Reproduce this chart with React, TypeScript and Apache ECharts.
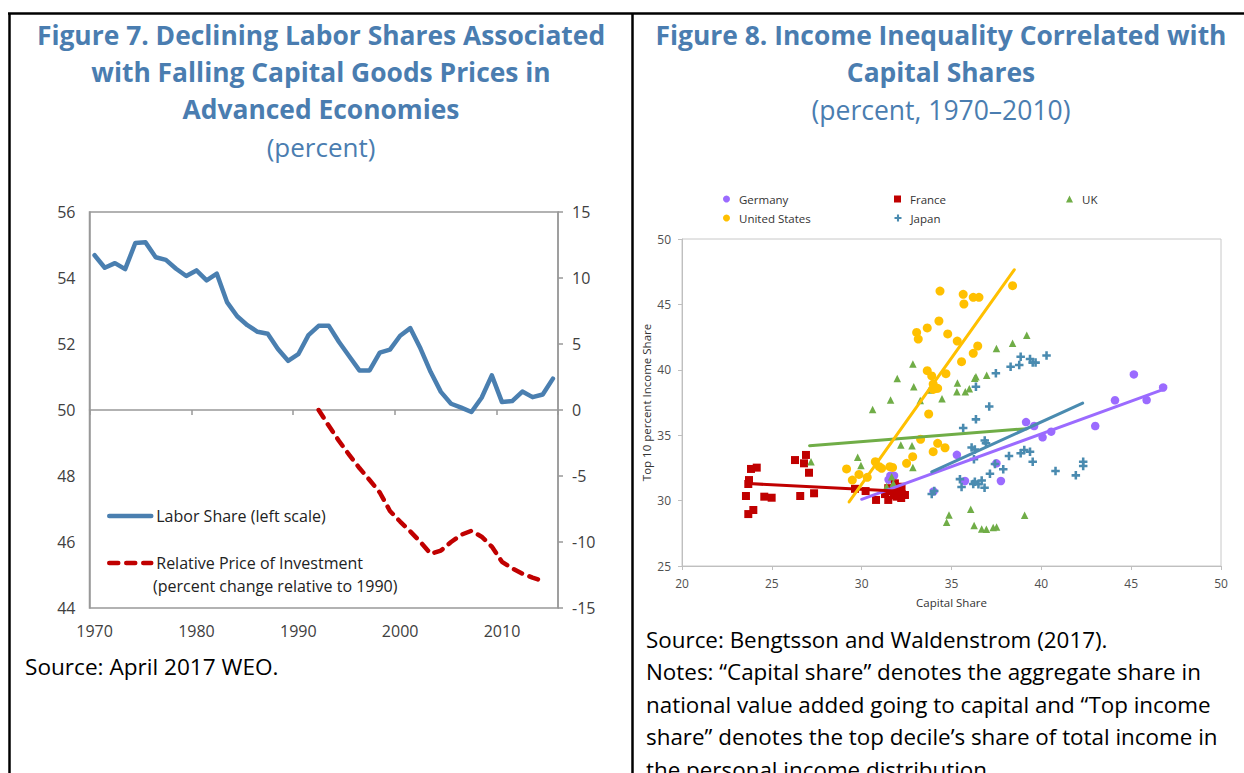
import React, { useEffect, useRef } from "react";
import * as echarts from "echarts";

// ---------- Figure 7 data ----------
const years: string[] = [
  "1970","1971","1972","1973","1974","1975","1976","1977","1978","1979",
  "1980","1981","1982","1983","1984","1985","1986","1987","1988","1989",
  "1990","1991","1992","1993","1994","1995","1996","1997","1998","1999",
  "2000","2001","2002","2003","2004","2005","2006","2007","2008","2009",
  "2010","2011","2012","2013","2014","2015",
];
const laborShare: number[] = [
  54.69, 54.31, 54.45, 54.27, 55.06, 55.08, 54.63, 54.55, 54.28, 54.06,
  54.23, 53.93, 54.13, 53.27, 52.84, 52.57, 52.37, 52.31, 51.85, 51.49,
  51.69, 52.27, 52.55, 52.55, 52.06, 51.63, 51.2, 51.2, 51.74, 51.83,
  52.25, 52.48, 51.86, 51.15, 50.55, 50.19, 50.07, 49.94, 50.37, 51.05,
  50.24, 50.27, 50.56, 50.39, 50.47, 50.95,
];
const relPriceStart = "1992";
const relPrice: number[] = [
  0, -1.2, -2.35, -3.4, -4.4, -5.3, -6.25, -7.65, -8.45, -9.2, -10.0, -10.9,
  -10.65, -10.0, -9.45, -9.15, -9.6, -10.35, -11.5, -12.0, -12.4, -12.7, -12.95,
];
const leftTicks = { min: 44, max: 56, interval: 2 };
const rightTicks = { min: -15, max: 15, interval: 5 };

// ---------- Figure 8 data ----------
const germany: number[][] = [
  [31.6, 31.9], [31.8, 31.9], [31.5, 31.6], [34.0, 30.7], [35.3, 33.5], [35.75, 31.5],
  [37.5, 32.85], [37.75, 31.5], [39.15, 36.0], [39.6, 35.7], [40.07, 34.84], [40.55, 35.27],
  [43.0, 35.7], [44.1, 37.67], [45.15, 39.65], [45.86, 37.69], [46.78, 38.65],
];
const france: number[][] = [
  [23.84, 32.42], [24.16, 32.52], [23.73, 31.57], [23.69, 31.27], [23.56, 30.35], [23.97, 29.28],
  [23.69, 28.97], [24.58, 30.3], [24.99, 30.22], [26.29, 33.1], [26.9, 33.49], [26.79, 32.85],
  [27.07, 32.13], [26.58, 30.35], [27.35, 30.56], [29.63, 30.9], [30.22, 30.73], [30.8, 30.05],
  [31.3, 30.5], [31.48, 30.95], [31.85, 31.32], [32.22, 31.06], [32.41, 30.43], [31.95, 30.3],
  [31.48, 30.05], [32.2, 30.2], [31.6, 30.7], [32.0, 30.8], [31.8, 30.4],
];
const uk: number[][] = [
  [27.18, 32.97], [29.78, 33.32], [29.96, 32.68], [30.61, 36.97], [31.61, 37.7], [31.98, 39.33],
  [32.85, 40.44], [32.9, 38.71], [32.18, 34.25], [32.8, 34.19], [32.85, 32.53], [31.67, 31.83],
  [31.76, 31.32], [31.39, 31.07], [33.26, 37.65], [33.76, 38.45], [34.47, 37.78], [35.33, 39.0],
  [35.3, 38.33], [35.77, 38.33], [35.99, 38.56], [36.29, 39.35], [36.36, 39.47], [36.96, 39.58],
  [37.5, 41.63], [38.4, 42.03], [39.19, 42.64], [34.73, 28.34], [34.86, 28.9], [36.07, 29.33],
  [36.26, 28.09], [36.68, 27.83], [36.94, 27.81], [37.32, 27.95], [37.51, 27.98], [39.07, 28.88],
];
const unitedStates: number[][] = [
  [29.16, 32.42], [29.48, 31.57], [29.85, 32.0], [30.31, 31.78], [30.76, 32.97], [30.98, 32.59],
  [31.11, 32.47], [31.57, 32.59], [31.72, 32.54], [32.5, 32.85], [32.84, 33.36], [33.28, 34.69],
  [33.98, 33.74], [34.23, 34.38], [34.64, 34.04], [33.73, 36.62], [33.65, 39.93], [33.9, 39.53],
  [34.69, 39.7], [33.98, 38.91], [34.13, 38.58], [34.23, 38.58], [33.98, 38.5], [33.06, 42.86],
  [33.15, 42.35], [33.65, 43.2], [34.3, 43.73], [34.36, 46.02], [34.79, 42.74], [35.32, 42.2],
  [35.56, 40.62], [36.21, 41.26], [36.46, 41.82], [35.65, 45.77], [35.69, 45.03], [36.21, 45.54],
  [36.53, 45.54], [38.4, 46.43],
];
const japan: number[][] = [
  [33.9, 30.5], [34.04, 30.73], [35.47, 31.64], [35.56, 31.04], [36.21, 31.27], [36.3, 31.45],
  [36.5, 31.25], [36.68, 31.53], [36.84, 30.98], [37.14, 32.05], [37.42, 32.8], [37.88, 32.39],
  [36.12, 34.06], [36.3, 33.9], [36.25, 33.17], [36.85, 34.6], [36.92, 34.38], [35.65, 35.55],
  [36.36, 36.21], [37.1, 37.2], [36.36, 38.71], [37.47, 39.73], [38.29, 40.24], [38.77, 40.37],
  [38.85, 41.0], [39.37, 40.83], [39.52, 40.55], [39.68, 40.55], [40.29, 41.1], [38.2, 33.41],
  [38.85, 33.62], [39.05, 33.87], [39.37, 33.74], [39.52, 32.97], [40.79, 32.26], [41.92, 31.93],
  [42.33, 32.97], [42.33, 32.64],
];
const germanyTrend: number[][] = [[30.0, 30.1], [46.8, 38.5]];
const franceTrend: number[][] = [[23.7, 31.3], [32.4, 30.7]];
const ukTrend: number[][] = [[27.1, 34.2], [39.2, 35.5]];
const usTrend: number[][] = [[29.3, 29.9], [38.5, 47.65]];
const japanTrend: number[][] = [[33.9, 32.2], [42.3, 37.45]];
const scatterX = { min: 20, max: 50, interval: 5 };
const scatterY = { min: 25, max: 50, interval: 5 };

// ---------- texts ----------
const leftTitle = ["Figure 7. Declining Labor Shares Associated", "with Falling Capital Goods Prices in", "Advanced Economies"];
const leftSub = "(percent)";
const rightTitle = ["Figure 8. Income Inequality Correlated with", "Capital Shares"];
const rightSub = "(percent, 1970–2010)";
const leftSource = "Source: April 2017 WEO.";
const rightNotes = [
  "Source: Bengtsson and Waldenstrom (2017).",
  "Notes: “Capital share” denotes the aggregate share in",
  "national value added going to capital and “Top income",
  "share” denotes the top decile’s share of total income in",
  "the personal income distribution.",
];
const laborName = "Labor Share (left scale)";
const priceName = "Relative Price of Investment";
const priceName2 = "(percent change relative to 1990)";

const FONT = '"Open Sans", "Noto Sans", sans-serif';
const TITLE_COLOR = "#4a7db0";
const BLUE = "#4a7fb0";
const RED = "#c00000";
const C_DE = "#9b6bff";
const C_FR = "#c00000";
const C_UK = "#70ad47";
const C_US = "#ffc000";
const C_JP = "#4a8bb0";
const PLUS = "path://M2.8,0H5.2V2.8H8V5.2H5.2V8H2.8V5.2H0V2.8H2.8Z";

export default function App() {
  const ref = useRef<HTMLDivElement>(null);
  useEffect(() => {
    if (!ref.current) return;
    const chart = echarts.init(ref.current, undefined, { renderer: "svg" });
    const startIdx = years.indexOf(relPriceStart);
    const priceData = years.map((_, i) =>
      i >= startIdx && i - startIdx < relPrice.length ? relPrice[i - startIdx] : null
    );
    const decade = (_i: number, v: string) => Number(v) % 10 === 0;
    const decadeIdx = (i: number) => Number(years[i]) % 10 === 0;

    const txt = (text: string, x: number, y: number, size: number, opts: any = {}) => ({
      type: "text",
      x,
      y,
      silent: true,
      style: {
        text,
        fontSize: size,
        fontFamily: FONT,
        fontWeight: opts.bold ? "bold" : "normal",
        fill: opts.color || "#000",
        align: opts.align || "left",
        verticalAlign: "middle",
      },
    });
    const ln = (x1: number, y1: number, x2: number, y2: number) => ({
      type: "line",
      silent: true,
      shape: { x1, y1, x2, y2 },
      style: { stroke: "#000", lineWidth: 2.5 },
    });

    const scatterLegend = (name: string, iconCenter: number, rowCenter: number) => ({
      data: [name],
      left: iconCenter - 3.5,
      top: rowCenter - 7,
      padding: 0,
      itemWidth: 7,
      itemHeight: 7,
      selectedMode: false,
      textStyle: { fontSize: 11.5, fontFamily: FONT, color: "#333", lineHeight: 14, padding: [0, 0, 0, 4] },
    });

    const graphics: any[] = [
      ln(8, 13.5, 1244, 13.5),
      ln(9.5, 13.5, 9.5, 773),
      ln(632.5, 13.5, 632.5, 773),
      ...leftTitle.map((t, i) => txt(t, 321, 35 + i * 37, 26.4, { bold: true, color: TITLE_COLOR, align: "center" })),
      txt(leftSub, 321, 147, 26, { color: TITLE_COLOR, align: "center" }),
      ...rightTitle.map((t, i) => txt(t, 941, 35 + i * 37, 26.4, { bold: true, color: TITLE_COLOR, align: "center" })),
      txt(rightSub, 941, 110, 26.5, { color: TITLE_COLOR, align: "center" }),
      txt(leftSource, 25, 666, 22.6),
      ...rightNotes.map((t, i) => txt(t, 646, 639 + i * 32.6, 22.4)),
      txt(priceName2, 153, 586, 16, { color: "#222" }),
    ];

    const axisLabelL = { fontSize: 16, fontFamily: FONT, color: "#404040" };
    const axisLabelS = { fontSize: 12, fontFamily: FONT, color: "#505050" };
    const grayLine = { lineStyle: { color: "#999", width: 1.5 } };
    const lightLine = { lineStyle: { color: "#bfbfbf", width: 1 } };

    const trend = (name: string, data: number[][], color: string) => ({
      name: name + " trend",
      type: "line",
      xAxisIndex: 1,
      yAxisIndex: 2,
      data,
      symbol: "none",
      z: 5,
      lineStyle: { color, width: 3, cap: "round" },
    });
    const scatter = (name: string, data: number[][], color: string, symbol: string, size: number) => ({
      name,
      type: "scatter",
      xAxisIndex: 1,
      yAxisIndex: 2,
      data,
      symbol,
      symbolSize: size,
      itemStyle: { color, opacity: 1 },
    });

    chart.setOption({
      animation: false,
      backgroundColor: "#fff",
      textStyle: { fontFamily: FONT },
      grid: [
        { left: 89.5, top: 212, width: 468.5, height: 396, show: true, borderColor: "#999", borderWidth: 1.5, backgroundColor: "transparent" },
        { left: 682, top: 239, width: 539, height: 327, show: true, borderColor: "#c8c8c8", borderWidth: 1, backgroundColor: "transparent" },
      ],
      legend: [
        {
          data: [{ name: laborName, lineStyle: { color: BLUE, width: 4.5, type: "solid" }, itemStyle: { opacity: 0 } }],
          left: 107, top: 506, padding: 0, itemWidth: 42, itemHeight: 20, selectedMode: false,
          textStyle: { fontSize: 16, fontFamily: FONT, color: "#222", lineHeight: 20 },
        },
        {
          data: [{ name: priceName, lineStyle: { color: RED, width: 4.5, type: [9, 8], cap: "round" }, itemStyle: { opacity: 0 } }],
          left: 107, top: 553, padding: 0, itemWidth: 42, itemHeight: 20, selectedMode: false,
          textStyle: { fontSize: 16, fontFamily: FONT, color: "#222", lineHeight: 20 },
        },
        scatterLegend("Germany", 726.5, 199),
        scatterLegend("France", 897.5, 199),
        scatterLegend("UK", 1069.5, 199),
        scatterLegend("United States", 726.5, 218),
        scatterLegend("Japan", 898, 218),
      ],
      xAxis: [
        {
          type: "category",
          gridIndex: 0,
          data: years,
          boundaryGap: true,
          axisLine: grayLine,
          axisTick: { show: true, interval: decadeIdx, length: 5, lineStyle: { color: "#999", width: 1.5 }, alignWithLabel: false },
          axisLabel: { ...axisLabelL, interval: decade, margin: 15 },
          splitLine: { show: false },
        },
        {
          type: "value",
          gridIndex: 1,
          ...scatterX,
          name: "Capital Share",
          nameLocation: "middle",
          nameGap: 30,
          nameTextStyle: { fontSize: 11.5, fontFamily: FONT, color: "#333" },
          axisLine: lightLine,
          axisTick: { show: true, length: 4, lineStyle: { color: "#bfbfbf" } },
          axisLabel: { ...axisLabelS, margin: 11 },
          splitLine: { show: false },
        },
      ],
      yAxis: [
        {
          type: "value",
          gridIndex: 0,
          position: "left",
          ...leftTicks,
          axisLine: { show: true, ...grayLine },
          axisTick: { show: false },
          axisLabel: { ...axisLabelL, margin: 14 },
          splitLine: { show: false },
        },
        {
          type: "value",
          gridIndex: 0,
          position: "right",
          ...rightTicks,
          axisLine: { show: true, ...grayLine },
          axisTick: { show: true, length: 5, lineStyle: { color: "#999", width: 1.5 } },
          axisLabel: { ...axisLabelL, margin: 14 },
          splitLine: { show: false },
        },
        {
          type: "value",
          gridIndex: 1,
          ...scatterY,
          name: "Top 10 percent Income Share",
          nameLocation: "middle",
          nameGap: 30,
          nameRotate: 90,
          nameTextStyle: { fontSize: 11.5, fontFamily: FONT, color: "#333" },
          axisLine: { show: true, ...lightLine },
          axisTick: { show: true, length: 4, lineStyle: { color: "#bfbfbf" } },
          axisLabel: { ...axisLabelS, margin: 11 },
          splitLine: { show: false },
        },
      ],
      series: [
        {
          name: laborName,
          type: "line",
          xAxisIndex: 0,
          yAxisIndex: 0,
          data: laborShare,
          symbol: "none",
          lineStyle: { color: BLUE, width: 4.5, join: "round", cap: "round" },
          itemStyle: { color: BLUE },
        },
        {
          name: priceName,
          type: "line",
          xAxisIndex: 0,
          yAxisIndex: 1,
          data: priceData,
          symbol: "none",
          connectNulls: false,
          lineStyle: { color: RED, width: 4.5, type: [9, 8], cap: "round", join: "round" },
          itemStyle: { color: RED },
        },
        scatter("Germany", germany, C_DE, "circle", 8.5),
        scatter("France", france, C_FR, "rect", 8),
        scatter("UK", uk, C_UK, "triangle", 7.5),
        scatter("United States", unitedStates, C_US, "circle", 9),
        scatter("Japan", japan, C_JP, PLUS, 8.5),
        trend("Germany", germanyTrend, C_DE),
        trend("France", franceTrend, C_FR),
        trend("UK", ukTrend, C_UK),
        trend("United States", usTrend, C_US),
        trend("Japan", japanTrend, C_JP),
      ],
      graphic: graphics,
    });
    return () => chart.dispose();
  }, []);
  return (
    <div
      ref={ref}
      style={{ position: "absolute", left: 0, top: 0, width: 1244, height: 773 }}
    />
  );
}
